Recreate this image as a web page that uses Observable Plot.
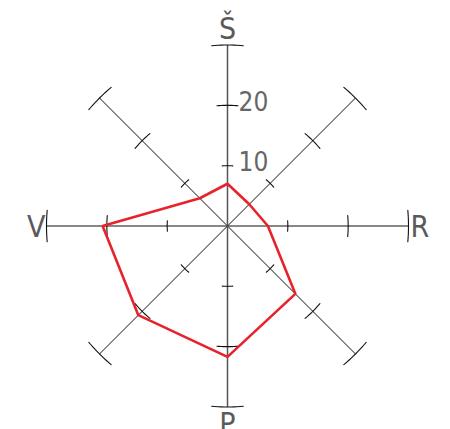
<!DOCTYPE html>
<html><head><meta charset="utf-8">
<script src="https://cdn.jsdelivr.net/npm/d3@7"></script>
<script src="https://cdn.jsdelivr.net/npm/@observablehq/plot@0.6"></script>
<style>body{margin:0;background:#fff}</style>
</head><body><div id="chart"></div>
<script>
// 8 directions, clockwise from the top (Š)
const directions = ["Š", "ŠR", "R", "PR", "P", "PV", "V", "ŠV"];
const angles = [90, 45, 0, -45, -90, -135, 180, 135];
const values = [7, 5.1, 6.7, 15.9, 21.7, 20.9, 20.7, 6.5];
const tickValues = [10, 20, 30];
const tickLabels = ["10", "20"];
const axisLabels = ["Š", "R", "P", "V"];
const axisLabelAngles = [90, 0, -90, 180];
const rMax = 30;

const rad = d => d * Math.PI / 180;
const pol = (r, a) => ({x: r * Math.cos(rad(a)), y: r * Math.sin(rad(a))});

const spokes = angles.map((a, i) => ({dir: directions[i], x1: 0, y1: 0, x2: pol(rMax, a).x, y2: pol(rMax, a).y, vertical: a === 90 || a === -90}));

const arcs = [];
angles.forEach((a, i) => tickValues.forEach(t => {
  for (let k = -5; k <= 5; k += 1) {
    const p = pol(t, a + k);
    arcs.push({id: directions[i] + t, x: p.x, y: p.y});
  }
}));

const ring = values.map((v, i) => ({dir: directions[i], ...pol(v, angles[i])}));
ring.push(ring[0]);

const labels = axisLabels.map((l, i) => ({label: l, ...pol(rMax, axisLabelAngles[i])}));
const tLabels = tickLabels.map((l, i) => ({label: l, x: 0, y: tickValues[i]}));

const font = "'Liberation Sans Narrow', 'Arial Narrow', 'DejaVu Sans Condensed', sans-serif";

const chart = Plot.plot({
  width: 450,
  height: 429,
  x: {domain: [-rMax, rMax], range: [46, 408], axis: null},
  y: {domain: [-rMax, rMax], range: [406.5, 44.5], axis: null},
  style: {fontFamily: font, background: "#fff"},
  marks: [
    Plot.link(spokes.filter(d => !d.vertical), {x1: "x1", y1: "y1", x2: "x2", y2: "y2", stroke: "#111", strokeWidth: 1}),
    Plot.link(spokes.filter(d => d.vertical), {x1: "x1", y1: "y1", x2: "x2", y2: "y2", stroke: "#555", strokeWidth: 1.5}),
    Plot.line(arcs, {x: "x", y: "y", z: "id", stroke: "#111", strokeWidth: 1.1}),
    Plot.line(ring, {x: "x", y: "y", stroke: "#e8222b", strokeWidth: 2.6, strokeLinejoin: "miter"}),
    Plot.text(labels.filter(d => d.label === "Š"), {x: "x", y: "y", text: "label", fontSize: 30, fill: "#5a5a5a", lineAnchor: "middle", dy: -16}),
    Plot.text(labels.filter(d => d.label === "P"), {x: "x", y: "y", text: "label", fontSize: 30, fill: "#5a5a5a", lineAnchor: "middle", dy: 17}),
    Plot.text(labels.filter(d => d.label === "R"), {x: "x", y: "y", text: "label", fontSize: 30, fill: "#5a5a5a", lineAnchor: "middle", textAnchor: "start", dx: 2, dy: 1}),
    Plot.text(labels.filter(d => d.label === "V"), {x: "x", y: "y", text: "label", fontSize: 30, fill: "#5a5a5a", lineAnchor: "middle", textAnchor: "end", dx: -1, dy: 1}),
    Plot.text(tLabels, {x: "x", y: "y", text: "label", fontSize: 26, fill: "#666", lineAnchor: "middle", textAnchor: "start", dx: 11, dy: -3})
  ]
});
document.getElementById("chart").appendChild(chart);
</script>
</body></html>
